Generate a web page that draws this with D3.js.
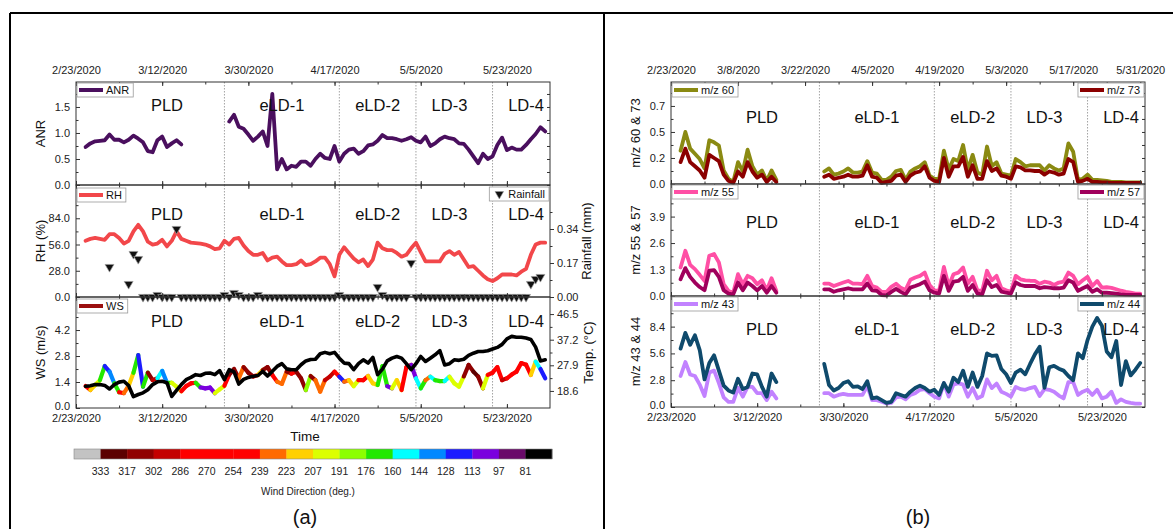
<!DOCTYPE html>
<html>
<head>
<meta charset="utf-8">
<script src="https://cdn.jsdelivr.net/npm/d3@7"></script>
<style>
  body { margin: 0; background: #fff; }
  svg { display: block; font-family: "Liberation Sans", Arial, sans-serif; }
</style>
</head>
<body>
<svg id="chart" width="1173" height="529"></svg>
<script>
// ---- data ----
const domainStart = "2/23/2020", domainEnd = "6/1/2020";
const pldStart = "2/25/2020";   // first day of the PLD segment
const ldStart = "3/26/2020";    // first day of the lockdown segment
const metStart = "2/25/2020";   // first day of the meteorology series

const periods = ["PLD", "eLD-1", "eLD-2", "LD-3", "LD-4"];
const periodCenters = ["3/13/2020", "4/6/2020", "4/26/2020", "5/11/2020", "5/27/2020"];
const periodBounds = ["3/25/2020", "4/18/2020", "5/4/2020", "5/20/2020"];

const dateTicks18 = ["2/23/2020", "3/12/2020", "3/30/2020", "4/17/2020", "5/5/2020", "5/23/2020"];
const dateTicks14 = ["2/23/2020", "3/8/2020", "3/22/2020", "4/5/2020", "4/19/2020", "5/3/2020", "5/17/2020", "5/31/2020"];

const anrPLD = [0.73,0.80,0.84,0.85,0.86,0.97,0.87,0.87,0.82,0.87,0.95,0.89,0.82,0.65,0.63,0.86,0.93,0.73,0.80,0.86,0.78];
const anrLD = [1.22,1.35,1.12,1.08,0.97,0.85,0.93,1.03,0.75,1.75,0.30,0.50,0.30,0.37,0.35,
  0.45,0.45,0.37,0.5,0.6,0.52,0.5,0.75,0.45,0.6,0.68,0.7,0.6,0.65,0.76,0.78,0.85,0.96,0.9,0.9,
  0.88,0.85,0.88,0.92,0.85,0.82,0.93,0.75,0.8,0.88,0.93,0.9,0.88,0.8,0.79,0.68,0.55,0.42,0.6,0.5,
  0.55,0.77,0.91,0.67,0.72,0.68,0.68,0.77,0.88,0.98,1.11,1.03];

const rh = [60,62,63,62,61,67,67,63,57,60,70,77,70,59,56,57,61,54,60,70,62,60,58,57.5,57,56,54,51,52,60,
  56,62,63,55,49,45,45,47,39,42,43,38,34,34,35,39,34,35,38,42,42,35,22,45,53,47,41,37,40,33,40,58,52,50,50,
  47,43,45,52,58,48,38,38,38,38,46,49,45,48,40,32,33,28,23,19,17,20,24,24,24,23,27,30,45,56,58,58];

const rainfall = [null,null,null,null,null,0.15,null,null,null,0.065,0.215,0.19,0,0,0,0.01,0,0,0,0.34,
  0,0,0,0,0,0,0,0,0,0.01,0,0.02,0.01,0,0,0,0.01,0,0,0,0,0,0,0,0,0,0,0,0,0,0,0,0,0.01,
  0,0,0,0,0,0,0,0.05,0.01,0,0,0,0,0,0.17,0,0,0,0,0,0,0,0,0,0,0,0,0,0,0,0,0,0,0,0,0,0,0,0,0.065,0.09,0.1];

const windSpeed = [1.18,0.97,1.24,1.5,2.26,1.96,1.33,0.85,0.8,1.2,1.9,2.85,1.15,1.9,1.5,1.6,2.0,1.36,1.36,1.15,
  0.9,1.18,1.33,1.36,1.11,1.06,1.1,0.8,1.0,1.2,1.8,2.1,1.6,2.2,1.9,1.7,1.78,2.05,2.2,1.78,1.42,1.3,1.96,1.85,
  1.95,1.6,0.97,1.72,1.5,0.88,1.5,1.69,1.96,1.69,1.42,1.5,1.18,1.5,1.5,1.72,1.33,1.24,2.26,1.18,1.06,1.5,0.97,
  2.2,2.32,1.6,1.06,1.5,1.69,1.5,1.45,1.45,1.69,1.33,1.15,1.7,2.32,1.96,1.69,1.06,1.78,1.9,2.2,1.5,1.6,1.8,
  1.96,2.42,2.33,1.78,2.5,2.1,1.6];

const windDir = [270,215,200,170,120,135,170,260,230,215,170,120,170,310,295,150,135,170,200,200,
  270,260,260,170,105,105,105,195,195,260,310,310,230,310,305,270,215,310,310,270,230,230,310,270,
  310,310,180,310,230,230,300,300,270,125,230,215,195,270,270,215,210,175,170,105,200,210,270,
  260,105,150,175,230,150,175,175,150,200,200,200,310,310,320,310,200,270,270,270,295,270,270,
  270,270,270,210,150,120,120];

const temperature = [20.3,20.5,20.9,20.9,20.6,19.3,20.9,21.8,22.1,20.5,16.5,17.3,17.9,19.0,20.9,21.9,22.1,21.6,
  16.6,18.8,20.9,22.7,23.5,24.5,24.2,25.0,25.1,24.5,26.0,22.7,26.3,25.5,21.1,22.8,23.5,23.9,24.2,25.7,24.0,
  25.7,27.5,28.5,26.6,26.3,26.3,28.1,29.5,30.0,30.1,32.1,32.6,32.1,32.6,30.5,28.7,28.5,26.3,28.5,29.9,28.7,
  30.8,24.5,26.5,29.5,30.5,31.1,30.5,28.5,26.3,28.5,31.1,29.3,30.5,31.7,33.2,28.0,28.5,29.9,29.7,30.1,31.5,
  32.3,32.9,32.9,33.2,33.8,34.4,35.5,37.5,38.4,38.1,38.1,37.8,37.3,34.5,29.5,29.9];

const mz60PLD = [0.32,0.50,0.34,0.29,0.24,0.15,0.42,0.40,0.37,0.13,0.05,0.02,0.21,0.12,0.33,0.17,0.09,0.13,0.03,0.13,0.04];
const mz60LD = [0.12,0.15,0.09,0.10,0.12,0.15,0.11,0.11,0.12,0.22,0.11,0.10,0.04,0.04,0.07,0.125,0.135,0.04,0.12,0.15,
  0.17,0.21,0.08,0.05,0.05,0.32,0.14,0.24,0.22,0.375,0.135,0.28,0.11,0.09,0.36,0.17,0.21,0.10,0.09,0.08,0.24,0.21,
  0.17,0.18,0.18,0.18,0.13,0.18,0.15,0.13,0.15,0.39,0.31,0.04,0.05,0.09,0.04,0.04,0.035,0.03,0.02,0.02,0.02,
  0.015,0.015,0.015,0.015];
const mz73PLD = [0.21,0.34,0.21,0.17,0.13,0.06,0.28,0.25,0.22,0.09,0.03,0.01,0.12,0.07,0.21,0.12,0.06,0.09,0.02,0.07,0.02];
const mz73LD = [0.07,0.09,0.05,0.06,0.07,0.09,0.07,0.07,0.08,0.18,0.07,0.06,0.01,0.02,0.03,0.08,0.09,0.02,0.08,0.11,
  0.12,0.17,0.06,0.03,0.02,0.25,0.07,0.17,0.17,0.26,0.07,0.18,0.05,0.05,0.22,0.125,0.15,0.08,0.07,0.05,0.17,0.16,
  0.13,0.13,0.125,0.125,0.09,0.12,0.11,0.09,0.10,0.24,0.21,0.02,0.03,0.05,0.02,0.02,0.015,0.015,0.01,0.01,
  0.01,0.01,0.01,0.01,0.01];

const mz55PLD = [1.4,2.22,1.53,1.32,1.04,0.74,1.98,2.06,1.65,0.58,0.25,0.16,1.07,0.58,0.99,0.87,0.58,0.77,0.28,0.87,0.25];
const mz55LD = [0.61,0.61,0.49,0.58,0.66,0.74,0.61,0.61,0.58,0.99,0.49,0.41,0.2,0.2,0.45,0.6,0.4,0.3,0.8,0.91,
  0.99,1.15,0.54,0.28,0.25,1.43,0.49,1.07,1.15,1.4,0.61,0.94,0.28,0.25,1.24,0.77,0.99,0.38,0.28,0.21,0.99,0.82,
  0.77,0.75,0.74,0.6,0.7,0.66,0.54,0.66,0.71,1.15,0.99,0.58,0.77,0.94,0.49,0.74,0.41,0.43,0.4,0.33,
  0.26,0.2,0.16,0.12,0.12];
const mz57PLD = [0.82,1.37,0.94,0.66,0.44,0.28,1.24,1.27,0.94,0.28,0.12,0.08,0.66,0.28,0.66,0.49,0.28,0.49,0.16,0.49,0.16];
const mz57LD = [0.33,0.33,0.21,0.28,0.33,0.38,0.33,0.33,0.33,0.61,0.28,0.25,0.05,0.03,0.2,0.35,0.2,0.08,0.41,0.49,
  0.58,0.71,0.28,0.16,0.12,0.99,0.25,0.71,0.74,0.94,0.25,0.54,0.12,0.08,0.77,0.44,0.54,0.21,0.16,0.12,0.66,0.54,
  0.49,0.49,0.49,0.38,0.44,0.41,0.38,0.38,0.41,0.77,0.66,0.25,0.38,0.49,0.21,0.33,0.16,0.16,0.14,0.12,
  0.08,0.06,0.05,0.05,0.05];

const mz43PLD = [3.24,4.7,3.4,3.24,2.34,1.15,3.6,3.8,2.5,1.0,0.54,0.54,2.0,1.08,2.1,2.1,1.44,1.44,0.72,1.6,0.9];
const mz43LD = [1.44,1.44,1.08,1.26,1.37,1.26,1.26,1.26,1.26,2.2,0.72,0.72,0.54,0.36,0.43,1.0,1.08,0.8,1.26,1.44,
  1.8,1.87,1.44,1.08,0.9,2.5,1.08,2.34,2.5,2.34,1.08,1.98,0.9,1.15,2.88,1.98,2.45,1.6,1.37,1.08,2.1,1.87,
  1.8,1.98,2.1,1.15,1.87,1.8,1.6,1.2,0.9,2.6,2.6,1.26,1.6,1.8,1.26,1.8,0.9,1.08,1.6,0.43,
  0.8,0.54,0.43,0.36,0.36];
const mz44PLD = [6.1,7.75,6.5,7.5,5.95,2.88,4.6,5.4,3.8,2.24,1.73,1.5,2.96,1.87,2.1,3.5,3.4,2.1,1.08,3.5,2.6];
const mz44LD = [4.5,2.3,1.73,1.98,2.5,2.7,2.1,2.16,1.87,2.7,0.9,1.0,0.72,0.43,0.54,1.44,1.26,1.08,1.6,1.98,
  2.24,1.98,1.6,1.8,1.26,2.5,1.6,3.06,2.6,3.8,2.1,3.6,2.1,3.24,5.6,5.34,5.4,3.97,3.42,2.5,3.6,3.9,
  3.42,4.5,5.5,6.3,2.0,4.15,4.3,4.0,3.8,3.24,2.8,5.6,5.1,7.0,8.4,9.3,8.5,5.8,5.2,6.9,
  2.3,4.8,3.3,3.9,4.6];

// wind-direction colour bar, left to right
const windBins = [333,317,302,286,270,254,239,223,207,191,176,160,144,128,113,97,81];
const windColors = ['#c3c3c3','#5c0000','#900000','#c40000','#ff0000','#ff0000','#ff0000','#ff6a00','#ffd000',
  '#dcff00','#8cff00','#22e800','#00ffff','#0088ff','#1c1cff','#7a00de','#6a0a6a','#000000'];

// ---- helpers ----
const FONT = '"Liberation Sans", Arial, sans-serif';
const parse = s => { const [m, d, y] = s.split('/').map(Number); return new Date(y, m - 1, d); };
const fmt = d3.timeFormat('%-m/%-d/%Y');
const t0 = parse(domainStart), t1 = parse(domainEnd);
const series = (values, first) => values.map((v, i) => ({date: d3.timeDay.offset(parse(first), i), v}));
const minorDates = step => d3.range(0, 100, step).map(i => d3.timeDay.offset(t0, i)).filter(d => d < t1);

const windScale = d3.scaleThreshold().domain(windBins.slice().reverse()).range(windColors.slice().reverse());

const svg = d3.select('#chart');
const layerGrid = svg.append('g'), layerData = svg.append('g'), layerFrame = svg.append('g'), layerText = svg.append('g');

const xA = d3.scaleTime().domain([t0, t1]).range([76, 550]);
const xB = d3.scaleTime().domain([t0, t1]).range([671, 1145]);

function styleAxis(sel, size) {
  sel.attr('font-family', FONT).attr('font-size', size || 11);
  sel.select('.domain').remove();
  sel.selectAll('.tick line').attr('stroke', '#333');
  sel.selectAll('.tick text').attr('fill', '#222');
}

function subplot(x, top, bottom, o) {
  const y = d3.scaleLinear().domain(o.domain).range([bottom, top]);
  const [x0, x1] = x.range();

  layerGrid.append('g').selectAll('line').data(periodBounds.map(parse)).join('line')
    .attr('x1', d => x(d)).attr('x2', d => x(d)).attr('y1', top).attr('y2', bottom)
    .attr('stroke', '#8c8c8c').attr('stroke-width', 0.8).attr('stroke-dasharray', '1.5,1.5');

  const f = layerFrame.append('g');
  // left axis (inward ticks); the lowest label sits a little higher where a date row follows
  f.append('g').attr('transform', `translate(${x0},0)`)
    .call(d3.axisLeft(y).tickValues(o.ticks).tickSizeInner(-4).tickSizeOuter(0).tickPadding(6)
      .tickFormat((d, i) => o.labels ? o.labels[i] : d3.format(o.fmt)(d)))
    .call(styleAxis)
    .call(a => { if (o.bottomLabels) a.selectAll('.tick text').filter(d => d === o.ticks[0]).attr('dy', '0.1em'); });
  f.append('g').attr('transform', `translate(${x0},0)`)
    .call(d3.axisLeft(y).tickValues(o.minor).tickSizeInner(-2.5).tickSizeOuter(0).tickFormat(''))
    .call(styleAxis);
  // right side: mirrored ticks unless there is a second axis
  if (!o.right) {
    f.append('g').attr('transform', `translate(${x1},0)`)
      .call(d3.axisRight(y).tickValues(o.ticks.concat(o.minor)).tickSizeInner(-3).tickSizeOuter(0).tickFormat(''))
      .call(styleAxis);
  }
  // date ticks on top and bottom borders
  const major = (o.dateTicks || dateTicks18).map(parse);
  const minor = minorDates(o.dateTicks === dateTicks14 ? 7 : 9);
  f.append('g').attr('transform', `translate(0,${top})`)
    .call(d3.axisTop(x).tickValues(major).tickSizeInner(-4).tickSizeOuter(0).tickPadding(8)
      .tickFormat(o.topLabels ? fmt : '')).call(styleAxis);
  f.append('g').attr('transform', `translate(0,${top})`)
    .call(d3.axisTop(x).tickValues(minor).tickSizeInner(-2.5).tickSizeOuter(0).tickFormat('')).call(styleAxis);
  f.append('g').attr('transform', `translate(0,${bottom})`)
    .call(d3.axisBottom(x).tickValues(major).tickSizeInner(-4).tickSizeOuter(0).tickPadding(6)
      .tickFormat(o.bottomLabels ? fmt : '')).call(styleAxis);
  f.append('g').attr('transform', `translate(0,${bottom})`)
    .call(d3.axisBottom(x).tickValues(minor).tickSizeInner(-2.5).tickSizeOuter(0).tickFormat('')).call(styleAxis);

  f.append('rect').attr('x', x0).attr('y', top).attr('width', x1 - x0).attr('height', bottom - top)
    .attr('fill', 'none').attr('stroke', '#333').attr('stroke-width', 1);

  // title
  layerText.append('text').attr('transform', `translate(${o.titleX},${(top + bottom) / 2}) rotate(-90)`)
    .attr('text-anchor', 'middle').attr('dominant-baseline', 'central')
    .attr('font-size', 13).attr('fill', '#111').text(o.title);

  // period names
  layerText.append('g').selectAll('text').data(periods).join('text')
    .attr('x', (d, i) => x(parse(periodCenters[i]))).attr('y', top + o.periodDy)
    .attr('text-anchor', 'middle').attr('dominant-baseline', 'central')
    .attr('font-size', 16.5).attr('fill', '#111').text(d => d);

  return {x, y, top, bottom, x0, x1};
}

function rightAxis(sp, o) {
  const y2 = d3.scaleLinear().domain(o.domain).range([sp.bottom, sp.top]);
  const f = layerFrame.append('g').attr('transform', `translate(${sp.x1},0)`);
  f.append('g').call(d3.axisRight(y2).tickValues(o.ticks).tickSizeInner(4).tickSizeOuter(0).tickPadding(3)
    .tickFormat(d3.format(o.fmt))).call(styleAxis);
  f.append('g').call(d3.axisRight(y2).tickValues(o.minor).tickSizeInner(2.5).tickSizeOuter(0).tickFormat(''))
    .call(styleAxis);
  layerText.append('text').attr('transform', `translate(${o.titleX},${(sp.top + sp.bottom) / 2}) rotate(-90)`)
    .attr('text-anchor', 'middle').attr('dominant-baseline', 'central')
    .attr('font-size', 13).attr('fill', '#111').text(o.title);
  return y2;
}

function drawLine(sp, pts, color, y, width) {
  const line = d3.line().defined(p => p.v != null).x(p => sp.x(p.date)).y(p => (y || sp.y)(p.v));
  layerData.append('path').datum(pts).attr('d', line).attr('fill', 'none')
    .attr('stroke', color).attr('stroke-width', width || 3.8)
    .attr('stroke-linejoin', 'round').attr('stroke-linecap', 'round');
}

function legend(sp, label, color, side, dy, symbol) {
  const g = layerText.append('g');
  const box = g.append('rect').attr('fill', '#fff').attr('stroke', '#9a9a9a').attr('stroke-width', 0.8);
  const txt = g.append('text').attr('font-size', 11).attr('fill', '#111').text(label);
  const tw = txt.node().getComputedTextLength();
  const sw = symbol ? 16 : 26;
  const w = sw + 4 + tw + 3, h = 14;
  const bx = side === 'left' ? sp.x0 + 1 : sp.x1 - 1 - w, by = sp.top + dy;
  box.attr('x', bx).attr('y', by).attr('width', w).attr('height', h);
  txt.attr('x', bx + sw + 3).attr('y', by + h / 2).attr('dominant-baseline', 'central');
  if (symbol) {
    g.append('path').attr('d', d3.symbol(d3.symbolTriangle, 32)())
      .attr('transform', `translate(${bx + 10},${by + h / 2}) rotate(180)`)
      .attr('fill', '#111').attr('stroke', '#999').attr('stroke-width', 0.6);
  } else {
    g.append('line').attr('x1', bx + 2).attr('x2', bx + sw).attr('y1', by + h / 2).attr('y2', by + h / 2)
      .attr('stroke', color).attr('stroke-width', 4);
  }
}

// ---- panel (a) ----
const spAnr = subplot(xA, 82, 185, {domain: [0, 1.98], ticks: [0, 0.5, 1.0, 1.5], minor: [0.25, 0.75, 1.25, 1.75],
  fmt: '.1f', title: 'ANR', titleX: 40, topLabels: true, periodDy: 23});
drawLine(spAnr, series(anrPLD, pldStart), '#4a0f5e');
drawLine(spAnr, series(anrLD, ldStart), '#4a0f5e');
legend(spAnr, 'ANR', '#4a0f5e', 'left', 1);

const spRh = subplot(xA, 185, 297, {domain: [0, 119.5], ticks: [0, 28, 56, 84], minor: [14, 42, 70, 98],
  fmt: '.1f', title: 'RH (%)', titleX: 40, right: true, periodDy: 29});
const yRain = rightAxis(spRh, {domain: [0, 0.56], ticks: [0, 0.17, 0.34], minor: [0.085, 0.255, 0.425],
  fmt: '.2f', title: 'Rainfall (mm)', titleX: 586});
drawLine(spRh, series(rh, metStart), '#f2474a');
layerData.append('g').selectAll('path').data(series(rainfall, metStart).filter(p => p.v != null)).join('path')
  .attr('d', d3.symbol(d3.symbolTriangle, 34)())
  .attr('transform', p => `translate(${spRh.x(p.date)},${yRain(p.v)}) rotate(180)`)
  .attr('fill', '#111').attr('stroke', '#9a9a9a').attr('stroke-width', 0.7);
legend(spRh, 'RH', '#f2474a', 'left', 3);
legend(spRh, 'Rainfall', '#111', 'right', 2, true);

const spWs = subplot(xA, 297, 408, {domain: [0, 5.98], ticks: [0, 1.4, 2.8, 4.2], minor: [0.7, 2.1, 3.5, 4.9],
  fmt: '.1f', title: 'WS (m/s)', titleX: 40, right: true, bottomLabels: true, periodDy: 24});
const yTemp = rightAxis(spWs, {domain: [12.4, 52.7], ticks: [18.6, 27.9, 37.2, 46.5], minor: [23.25, 32.55, 41.85],
  fmt: '.1f', title: 'Temp. (\u00b0C)', titleX: 588});
const wsPts = series(windSpeed, metStart);
layerData.append('g').selectAll('path').data(d3.pairs(wsPts)).join('path')
  .attr('d', pr => d3.line().x(p => spWs.x(p.date)).y(p => spWs.y(p.v))(pr))
  .attr('fill', 'none').attr('stroke', (pr, i) => windScale(windDir[i]))
  .attr('stroke-width', 4.2).attr('stroke-linecap', 'round');
drawLine(spWs, series(temperature, metStart), '#000', yTemp, 3.6);
legend(spWs, 'WS', '#9b1010', 'left', 2);

layerText.append('text').attr('x', 305).attr('y', 436).attr('text-anchor', 'middle')
  .attr('dominant-baseline', 'central').attr('font-size', 13.5).attr('fill', '#111').text('Time');

// colour bar
const cb = d3.scaleBand().domain(d3.range(windColors.length)).range([74, 552]);
const cbar = layerText.append('g');
cbar.selectAll('rect').data(windColors).join('rect')
  .attr('x', (d, i) => cb(i)).attr('y', 449).attr('width', cb.bandwidth() + 0.3).attr('height', 10)
  .attr('fill', d => d);
cbar.append('rect').attr('x', 74).attr('y', 449).attr('width', 478).attr('height', 10)
  .attr('fill', 'none').attr('stroke', '#888').attr('stroke-width', 0.6);
cbar.selectAll('text').data(windBins).join('text')
  .attr('x', (d, i) => cb(i + 1)).attr('y', 471).attr('text-anchor', 'middle')
  .attr('dominant-baseline', 'central').attr('font-size', 10.5).attr('fill', '#222').text(d => d);
cbar.append('text').attr('x', 308).attr('y', 491).attr('text-anchor', 'middle').attr('dominant-baseline', 'central')
  .attr('font-size', 10).attr('fill', '#222').text('Wind Direction (deg.)');

// ---- panel (b) ----
const spTop = subplot(xB, 82, 184, {domain: [0, 0.98], ticks: [0, 0.25, 0.5, 0.75], labels: ['0.0', '0.2', '0.5', '0.7'],
  minor: [0.125, 0.375, 0.625, 0.875], title: 'm/z 60 & 73', titleX: 635, topLabels: true,
  dateTicks: dateTicks14, periodDy: 35});
drawLine(spTop, series(mz60PLD, pldStart), '#8a8a12');
drawLine(spTop, series(mz60LD, ldStart), '#8a8a12');
drawLine(spTop, series(mz73PLD, pldStart), '#8b0000');
drawLine(spTop, series(mz73LD, ldStart), '#8b0000');
legend(spTop, 'm/z 60', '#8a8a12', 'left', 1);
legend(spTop, 'm/z 73', '#8b0000', 'right', 1);

const spMid = subplot(xB, 184, 296, {domain: [0, 5.5], ticks: [0, 1.3, 2.6, 3.9], minor: [0.65, 1.95, 3.25, 4.55],
  fmt: '.1f', title: 'm/z 55 & 57', titleX: 635, periodDy: 38});
drawLine(spMid, series(mz55PLD, pldStart), '#ff4fa5');
drawLine(spMid, series(mz55LD, ldStart), '#ff4fa5');
drawLine(spMid, series(mz57PLD, pldStart), '#a0005c');
drawLine(spMid, series(mz57LD, ldStart), '#a0005c');
legend(spMid, 'm/z 55', '#ff4fa5', 'left', 1);
legend(spMid, 'm/z 57', '#a0005c', 'right', 1);

const spBot = subplot(xB, 296, 407, {domain: [0, 11.6], ticks: [0, 2.8, 5.6, 8.4], minor: [1.4, 4.2, 7.0, 9.8],
  fmt: '.1f', title: 'm/z 43 & 44', titleX: 635, bottomLabels: true, periodDy: 33});
drawLine(spBot, series(mz43PLD, pldStart), '#c282ff');
drawLine(spBot, series(mz43LD, ldStart), '#c282ff');
drawLine(spBot, series(mz44PLD, pldStart), '#0f4a6c');
drawLine(spBot, series(mz44LD, ldStart), '#0f4a6c');
legend(spBot, 'm/z 43', '#c282ff', 'left', 1);
legend(spBot, 'm/z 44', '#0f4a6c', 'right', 1);

// panel captions and frame
layerText.append('text').attr('x', 305).attr('y', 517).attr('text-anchor', 'middle').attr('dominant-baseline', 'central')
  .attr('font-size', 20).attr('fill', '#111').text('(a)');
layerText.append('text').attr('x', 918).attr('y', 517).attr('text-anchor', 'middle').attr('dominant-baseline', 'central')
  .attr('font-size', 20).attr('fill', '#111').text('(b)');
const border = layerFrame.append('g').attr('stroke', '#000').attr('stroke-width', 2);
border.append('line').attr('x1', 10).attr('x2', 1173).attr('y1', 13).attr('y2', 13);
border.append('line').attr('x1', 10).attr('x2', 10).attr('y1', 13).attr('y2', 529);
border.append('line').attr('x1', 604).attr('x2', 604).attr('y1', 13).attr('y2', 529);
</script>
</body>
</html>
